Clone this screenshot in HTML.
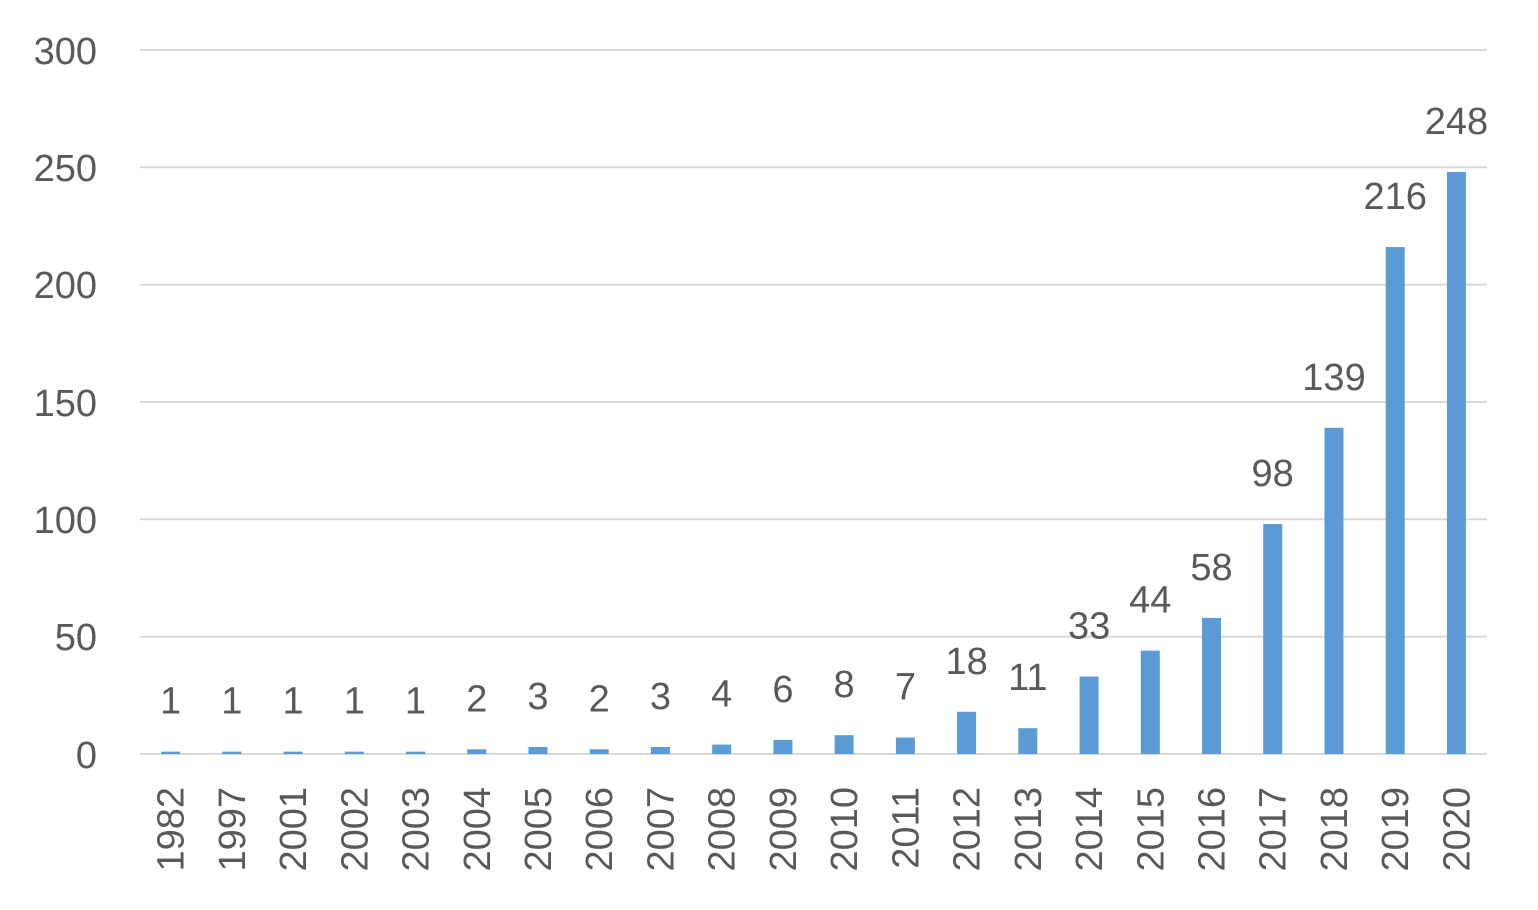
<!DOCTYPE html>
<html><head><meta charset="utf-8"><style>
body{margin:0;background:#fff;}
svg text{font-family:"Liberation Sans","Noto Sans CJK KR",sans-serif;fill:#595959;font-size:38px;}
</style></head><body>
<svg width="1538" height="905" xmlns="http://www.w3.org/2000/svg">
<g stroke="#d9d9d9" stroke-width="2">
<line x1="140" x2="1487" y1="50" y2="50"/>
<line x1="140" x2="1487" y1="167.3" y2="167.3"/>
<line x1="140" x2="1487" y1="284.7" y2="284.7"/>
<line x1="140" x2="1487" y1="402" y2="402"/>
<line x1="140" x2="1487" y1="519.3" y2="519.3"/>
<line x1="140" x2="1487" y1="636.7" y2="636.7"/>
<line x1="140" x2="1487" y1="754" y2="754"/>
</g>
<g text-anchor="end">
<text x="97" y="64">300</text>
<text x="97" y="181">250</text>
<text x="97" y="298">200</text>
<text x="97" y="416">150</text>
<text x="97" y="533">100</text>
<text x="97" y="650">50</text>
<text x="97" y="768">0</text>
</g>
<g fill="#5b9bd5">
<rect x="161.1" y="751.65" width="19" height="2.35"/>
<rect x="222.3" y="751.65" width="19" height="2.35"/>
<rect x="283.6" y="751.65" width="19" height="2.35"/>
<rect x="344.8" y="751.65" width="19" height="2.35"/>
<rect x="406.0" y="751.65" width="19" height="2.35"/>
<rect x="467.3" y="749.3" width="19" height="4.7"/>
<rect x="528.5" y="747.0" width="19" height="7.0"/>
<rect x="589.7" y="749.3" width="19" height="4.7"/>
<rect x="650.9" y="747.0" width="19" height="7.0"/>
<rect x="712.2" y="744.6" width="19" height="9.4"/>
<rect x="773.4" y="739.9" width="19" height="14.1"/>
<rect x="834.6" y="735.2" width="19" height="18.8"/>
<rect x="895.9" y="737.6" width="19" height="16.4"/>
<rect x="957.1" y="711.8" width="19" height="42.2"/>
<rect x="1018.3" y="728.2" width="19" height="25.8"/>
<rect x="1079.6" y="676.6" width="19" height="77.4"/>
<rect x="1140.8" y="650.7" width="19" height="103.3"/>
<rect x="1202.0" y="617.9" width="19" height="136.1"/>
<rect x="1263.2" y="524.0" width="19" height="230.0"/>
<rect x="1324.5" y="427.8" width="19" height="326.2"/>
<rect x="1385.7" y="247.1" width="19" height="506.9"/>
<rect x="1446.9" y="172.0" width="19" height="582.0"/>
</g>
<g text-anchor="middle">
<text x="170.6" y="713.6">1</text>
<text x="231.8" y="713.6">1</text>
<text x="293.1" y="713.6">1</text>
<text x="354.3" y="713.6">1</text>
<text x="415.5" y="713.6">1</text>
<text x="476.8" y="711.3">2</text>
<text x="538.0" y="709.0">3</text>
<text x="599.2" y="711.3">2</text>
<text x="660.4" y="709.0">3</text>
<text x="721.7" y="706.6">4</text>
<text x="782.9" y="701.9">6</text>
<text x="844.1" y="697.2">8</text>
<text x="905.4" y="699.6">7</text>
<text x="966.6" y="673.8">18</text>
<text x="1027.8" y="690.2">11</text>
<text x="1089.1" y="638.6">33</text>
<text x="1150.3" y="612.7">44</text>
<text x="1211.5" y="579.9">58</text>
<text x="1272.7" y="486.0">98</text>
<text x="1334.0" y="389.8">139</text>
<text x="1395.2" y="209.1">216</text>
<text x="1456.4" y="134.0">248</text>
</g>
<g text-anchor="end">
<text transform="translate(183.6,787) rotate(-90)">1982</text>
<text transform="translate(244.8,787) rotate(-90)">1997</text>
<text transform="translate(306.1,787) rotate(-90)">2001</text>
<text transform="translate(367.3,787) rotate(-90)">2002</text>
<text transform="translate(428.5,787) rotate(-90)">2003</text>
<text transform="translate(489.8,787) rotate(-90)">2004</text>
<text transform="translate(551.0,787) rotate(-90)">2005</text>
<text transform="translate(612.2,787) rotate(-90)">2006</text>
<text transform="translate(673.4,787) rotate(-90)">2007</text>
<text transform="translate(734.7,787) rotate(-90)">2008</text>
<text transform="translate(795.9,787) rotate(-90)">2009</text>
<text transform="translate(857.1,787) rotate(-90)">2010</text>
<text transform="translate(918.4,787) rotate(-90)">2011</text>
<text transform="translate(979.6,787) rotate(-90)">2012</text>
<text transform="translate(1040.8,787) rotate(-90)">2013</text>
<text transform="translate(1102.1,787) rotate(-90)">2014</text>
<text transform="translate(1163.3,787) rotate(-90)">2015</text>
<text transform="translate(1224.5,787) rotate(-90)">2016</text>
<text transform="translate(1285.7,787) rotate(-90)">2017</text>
<text transform="translate(1347.0,787) rotate(-90)">2018</text>
<text transform="translate(1408.2,787) rotate(-90)">2019</text>
<text transform="translate(1469.4,787) rotate(-90)">2020</text>
</g>
</svg>
</body></html>
